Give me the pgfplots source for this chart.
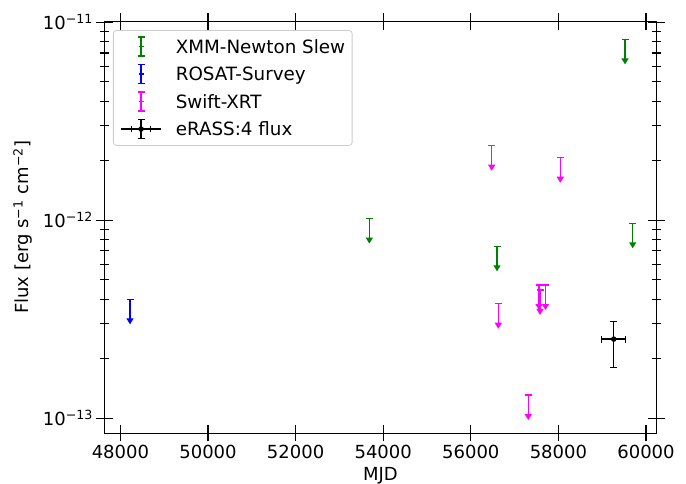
\documentclass[border=0pt]{standalone}
\usepackage{pgfplots}
\pgfplotsset{compat=1.18}
\usepackage{fontspec}
\setmainfont{DejaVu Sans}
\definecolor{mplgreen}{rgb}{0,0.5,0}
\definecolor{mplblue}{rgb}{0,0,1}
\definecolor{mplmag}{rgb}{1,0,1}
\newcommand\sci[1]{10\textsuperscript{−#1}}
\pgfdeclareplotmark{uplim}{%
  \pgfsetbuttcap
  \pgfsetlinewidth{1.5bp}%
  \pgfpathmoveto{\pgfqpoint{-3.5bp}{0bp}}\pgfpathlineto{\pgfqpoint{3.5bp}{0bp}}%
  \pgfpathmoveto{\pgfqpoint{0bp}{0bp}}\pgfpathlineto{\pgfqpoint{0bp}{-19.5bp}}%
  \pgfusepathqstroke
  \pgfpathmoveto{\pgfqpoint{-3.7bp}{-19bp}}\pgfpathlineto{\pgfqpoint{3.7bp}{-19bp}}%
  \pgfpathlineto{\pgfqpoint{0bp}{-25bp}}\pgfpathclose
  \pgfusepathqfill
}
\pgfplotsset{
  ullegend/.style={legend image code/.code={
    \draw[line width=1.4bp, line cap=butt] (20bp,-9.5bp) -- (20bp,9.5bp)
      (16.5bp,-9.5bp) -- (23.5bp,-9.5bp) (16.5bp,9.5bp) -- (23.5bp,9.5bp)
      (17.5bp,0bp) -- (22.5bp,0bp);
    \path[draw=none, fill=none] (0bp,0bp) -- (40bp,0bp);
  }},
  erlegend/.style={legend image code/.code={
    \draw[line width=1.4bp, line cap=butt] (0bp,0bp) -- (40bp,0bp)
      (20bp,-9.7bp) -- (20bp,9.7bp)
      (16.5bp,-9.7bp) -- (23.5bp,-9.7bp) (16.5bp,9.7bp) -- (23.5bp,9.7bp)
      (10.7bp,-3.4bp) -- (10.7bp,3.4bp) (29.3bp,-3.4bp) -- (29.3bp,3.4bp);
    \fill (20bp,0bp) circle (2bp);
  }},
}
\begin{document}
\begin{tikzpicture}
\useasboundingbox (-105bp,-51bp) rectangle (581bp,433bp);
\begin{axis}[
  at={(0,0)}, anchor=south west,
  scale only axis, width=551bp, height=411.5bp,
  ymode=log,
  xmin=47648, xmax=60228, ymin=8.42e-14, ymax=1.0093e-11,
  scaled x ticks=false,
  xtick={48000,50000,52000,54000,56000,58000,60000},
  xticklabels={48000,50000,52000,54000,56000,58000,60000},
  ytick={1e-13,1e-12,1e-11},
  yticklabels={\sci{13},\sci{12},\sci{11}},
  tick align=center, major tick length=17bp, minor tick length=9bp,
  tick style={black, line width=1.1bp},
  axis line style={line width=1bp},
  xtick pos=both, ytick pos=both,
  ticklabel style={font=\fontsize{18bp}{21bp}\selectfont},
  xlabel={MJD},
  ylabel={Flux [erg s\textsuperscript{−1} cm\textsuperscript{−2}]},
  every axis x label/.style={at={(axis description cs:0.5,-0.1045)}, anchor=center, font=\fontsize{18bp}{21bp}\selectfont},
  every axis y label/.style={at={(axis description cs:-0.1488,0.5)}, rotate=90, anchor=center, font=\fontsize{18bp}{21bp}\selectfont},
  legend cell align=left,
  legend style={at={(axis description cs:0.0145,0.9793)}, anchor=north west,
    draw=black!20, rounded corners=3bp, fill=white, fill opacity=0.8, text opacity=1,
    line width=0.8bp, inner xsep=7bp, inner ysep=6bp,
    font=\fontsize{18.3bp}{21bp}\selectfont, row sep=7bp,
    nodes={inner xsep=0pt, inner ysep=0pt, text height=13.3bp, text depth=0pt},
    /tikz/every odd column/.append style={column sep=14bp}},
]
\addplot[mplgreen, only marks, mark=uplim, line width=1.5bp, ullegend]
  coordinates {(53683,1.02e-12) (56598,7.39e-13) (59521,8.2e-12) (59696,9.66e-13)};
\addlegendentry{XMM-Newton Slew}
\addplot[mplblue, only marks, mark=uplim, line width=1.5bp, ullegend]
  coordinates {(48219,3.99e-13)};
\addlegendentry{ROSAT-Survey}
\addplot[mplmag, only marks, mark=uplim, line width=1.5bp, ullegend]
  coordinates {(56477,2.38e-12) (56628,3.79e-13) (57313,1.31e-13) (57557,4.71e-13)
               (57580,4.45e-13) (57705,4.71e-13) (58043,2.07e-12)};
\addlegendentry{Swift-XRT}
\addplot[black, only marks, mark=*, mark size=2bp, line width=1.4bp, erlegend,
  error bars/.cd, x dir=both, x explicit, y dir=both, y explicit,
  error bar style={line width=1.4bp},
  error mark options={rotate=90, line width=1.4bp, mark size=3.4bp}]
  coordinates {(59263,2.51e-13) += (274,0.58e-13) -= (274,0.71e-13)};
\addlegendentry{eRASS:4 flux}
\end{axis}
\end{tikzpicture}
\end{document}
